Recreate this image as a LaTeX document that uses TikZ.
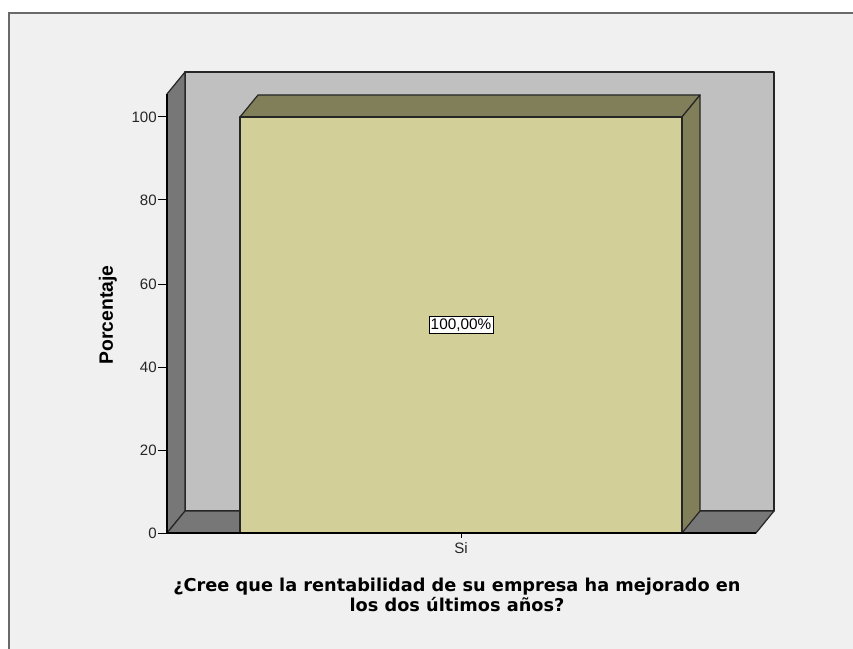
\documentclass[tikz,border=0pt]{standalone}
\usepackage{fontspec}
\setmainfont{Liberation Sans}
\newfontfamily\titlefont{DejaVu Sans}
\definecolor{bgc}{HTML}{F0F0F0}
\definecolor{wallc}{HTML}{C0C0C0}
\definecolor{sidec}{HTML}{777777}
\definecolor{barc}{HTML}{D3CF99}
\definecolor{bardk}{HTML}{817F5A}
\definecolor{framec}{HTML}{6A6A6A}
\tikzset{
  face/.style={draw=black!85, line width=0.9pt, line join=round},
  tick/.style={line width=0.75pt},
  ticklab/.style={font=\fontsize{11.3pt}{13pt}\selectfont, text=black!85, inner sep=0pt},
  valbox/.style={draw=black, fill=white, line width=0.75pt, inner sep=1.3pt, font=\fontsize{11.5pt}{13pt}\selectfont},
  axtitle/.style={font=\fontsize{14.5pt}{16pt}\selectfont\bfseries, inner sep=0pt}
}
\begin{document}
\begin{tikzpicture}[x=0.75pt,y=-0.75pt]
\useasboundingbox (0,0) rectangle (853,649);
\fill[white] (0,0) rectangle (853,649);
\fill[bgc] (9,13) rectangle (853,649);
\draw[framec, line width=1.5pt] (9,649) -- (9,13) -- (853,13);
% back wall
\draw[face, fill=wallc] (185,72) rectangle (774,511);
% left side wall
\draw[face, fill=sidec] (167,94) -- (185,72) -- (185,511) -- (167,533) -- cycle;
% floor
\draw[face, fill=sidec] (167,533) -- (185,511) -- (774,511) -- (756,533) -- cycle;
% bar
\draw[face, fill=bardk] (240,117) -- (258,95) -- (700,95) -- (682,117) -- cycle;
\draw[face, fill=bardk] (682,117) -- (700,95) -- (700,511) -- (682,533) -- cycle;
\draw[face, fill=barc] (240,117) rectangle (682,533);
% axis line
\draw[line width=0.9pt] (167,94) -- (167,533) -- (756,533);
% y ticks
\foreach \v/\y in {0/533,20/450,40/367,60/284,80/200,100/117}{
  \draw[tick] (158,\y) -- (167,\y);
  \node[ticklab, anchor=east] (t\v) at (157,\y) {\v};
}
% x tick
\draw[tick] (461,533) -- (461,538);
\node[ticklab, anchor=north] (xsi) at (461,542) {Si};
% value label
\node[valbox] (val) at (461,325) {100,00\%};
% axis titles
\node[axtitle, rotate=90] (ylab) at (108,315) {Porcentaje};
\node[font=\titlefont\fontsize{13.3pt}{15pt}\selectfont\bfseries, align=center, inner sep=0pt] (xlab) at (457,595)
  {¿Cree que la rentabilidad de su empresa ha mejorado en\\los dos últimos años?};
\end{tikzpicture}
\end{document}
